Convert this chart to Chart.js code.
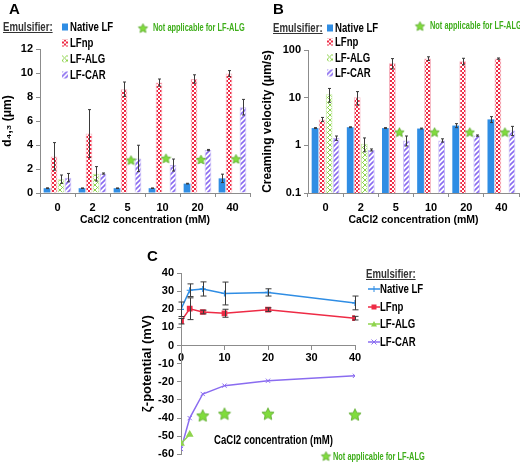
<!DOCTYPE html>
<html>
<head>
<meta charset="utf-8">
<script src="https://cdn.jsdelivr.net/npm/chart.js@4.4.0/dist/chart.umd.min.js"></script>
<style>
  body { margin: 0; background: #fff; }
  #wrap { position: relative; width: 520px; height: 464px; overflow: hidden;
          font-family: "Liberation Sans", Arial, sans-serif; font-weight: bold; }
  #wrap canvas.chart { position: absolute; }
  .t { position: absolute; white-space: nowrap; transform: translateY(-50%) scaleX(0.8);
       transform-origin: left center; z-index: 2; line-height: 1; }
  .panel { font-size: 15px; color: #000; transform: translateY(-50%); }
  .emu { font-size: 12px; color: #333; text-decoration: underline; }
  .leg { font-size: 12px; color: #000; }
  .na { font-size: 10px; color: #3fae1b; transform: translateY(-50%) scaleX(0.74); }
  .sw { position: absolute; width: 6px; height: 7px; transform: translateY(-50%); z-index: 2; }
  .ic { position: absolute; transform: translate(-50%, -50%); z-index: 2; }
</style>
</head>
<body>
<div id="wrap">
  <canvas class="chart" id="chartA" width="260" height="230" style="left:0;top:0"></canvas>
  <canvas class="chart" id="chartB" width="260" height="230" style="left:260px;top:0"></canvas>
  <canvas class="chart" id="chartC" width="240" height="224" style="left:140px;top:240px"></canvas>
</div>
<script>
// ================= DATA =================
const categories = ["0", "2", "5", "10", "20", "40"];
const seriesNames = ["Native LF", "LFnp", "LF-ALG", "LF-CAR"];

// A: droplet size d4,3 (µm)
const sizeNative = [0.4, 0.4, 0.4, 0.4, 0.78, 1.22];
const sizeNativeErr = [0.03, 0.02, 0.02, 0.02, 0.03, 0.35];
const sizeLFnp = [3.05, 4.95, 8.65, 9.2, 9.5, 9.95];
const sizeLFnpErr = [1.15, 2.0, 0.6, 0.3, 0.35, 0.25];
const sizeALG = [1.15, 1.6, null, null, null, null];
const sizeALGErr = [0.35, 0.6, 0, 0, 0, 0];
const sizeCAR = [1.28, 1.62, 2.88, 2.33, 3.58, 7.15];
const sizeCARErr = [0.35, 0.05, 1.1, 0.5, 0.05, 0.65];
const sizeStars = [null, null, 2.75, 2.9, 2.8, 2.85];
const yTicksA = [0, 2, 4, 6, 8, 10, 12];

// B: creaming velocity (µm/s)
const velNative = [2.3, 2.4, 2.3, 2.25, 2.6, 3.5];
const velNativeErr = [0.05, 0.05, 0.05, 0.05, 0.25, 0.5];
const velLFnp = [3.5, 10.2, 53, 66, 58, 66];
const velLFnpErr = [0.35, 3.2, 13, 6, 9, 2];
const velALG = [11.8, 1.08, null, null, null, null];
const velALGErr = [3.8, 0.35, 0, 0, 0, 0];
const velCAR = [1.42, 0.8, 1.27, 1.27, 1.6, 2.05];
const velCARErr = [0.15, 0.04, 0.3, 0.1, 0.05, 0.45];
const velStars = [null, null, 1.9, 1.9, 1.9, 1.9];
const yTicksB = [0.1, 1, 10, 100];

// C: zeta-potential (mV)
const zetaX = [0, 2, 5, 10, 20, 40];
const zetaNative = [20, 30.5, 31.2, 28.7, 29.3, 23.5];
const zetaNativeErr = [4, 3.5, 3.9, 6.3, 2, 3.8];
const zetaLFnp = [13.4, 20.3, 18.5, 17.8, 19.8, 15.1];
const zetaLFnpErr = [1.5, 6, 1, 2.2, 1, 1];
const zetaALGX = [0, 2];
const zetaALG = [-54, -49];
const zetaCAR = [-57, -40, -26.7, -22.1, -19.4, -16.7];
const starX = [5, 10, 20, 40];
const starY = [-38.5, -37.5, -37.5, -38];
const xTicksC = [0, 10, 20, 30, 40];
const yTicksC = [-60, -50, -40, -30, -20, -10, 0, 10, 20, 30, 40];

// ================= WARNA & POLA =================
const FONT = '"Liberation Sans", Arial, sans-serif';
const AXIS = "#8c8c8c";
const BLUE = "#2f8de4";
const RED = "#ee2b45";
const GREEN = "#8fd44e";
const PURPLE = "#8a6cf0";
const ERR = "#3a3a3a";

function patternCanvas(kind) {
  const c = document.createElement("canvas");
  const g = c.getContext("2d");
  if (kind === "checker") {
    c.width = c.height = 4;
    g.fillStyle = RED; g.fillRect(0, 0, 4, 4);
    g.fillStyle = "#fff"; g.fillRect(0, 0, 2, 2); g.fillRect(2, 2, 2, 2);
  } else if (kind === "hatch") {
    c.width = c.height = 5;
    g.fillStyle = "#fff"; g.fillRect(0, 0, 5, 5);
    g.strokeStyle = GREEN; g.lineWidth = 1;
    g.beginPath();
    g.moveTo(0, 0); g.lineTo(5, 5);
    g.moveTo(5, 0); g.lineTo(0, 5);
    g.stroke();
  } else {
    c.width = c.height = 5;
    g.fillStyle = "#fff"; g.fillRect(0, 0, 5, 5);
    g.strokeStyle = PURPLE; g.lineWidth = 1.6;
    g.beginPath();
    g.moveTo(-1, 6); g.lineTo(6, -1);
    g.moveTo(-1, 1); g.lineTo(1, -1);
    g.moveTo(4, 6); g.lineTo(6, 4);
    g.stroke();
  }
  return c;
}
const pcNp = patternCanvas("checker");
const pcAlg = patternCanvas("hatch");
const pcCar = patternCanvas("stripe");
const patNp = pcNp.getContext("2d").createPattern(pcNp, "repeat");
const patAlg = pcAlg.getContext("2d").createPattern(pcAlg, "repeat");
const patCar = pcCar.getContext("2d").createPattern(pcCar, "repeat");

function makeStar(size) {
  const c = document.createElement("canvas");
  c.width = c.height = size;
  const g = c.getContext("2d");
  const cx = size / 2, cy = size / 2 + size * 0.05, R = size / 2 - 0.6, r = R * 0.48;
  g.beginPath();
  for (let k = 0; k < 10; k++) {
    const rad = k % 2 ? r : R;
    const a = -Math.PI / 2 + (k * Math.PI) / 5;
    g.lineTo(cx + rad * Math.cos(a), cy + rad * Math.sin(a));
  }
  g.closePath();
  g.fillStyle = "#80dc3c";
  g.fill();
  g.strokeStyle = "#5aa82c";
  g.lineWidth = 0.8;
  g.stroke();
  return c;
}
const starSmall = makeStar(11);
const starBig = makeStar(14);

// ================= PLUGIN =================
const errorBars = {
  id: "errorBars",
  afterDatasetsDraw(chart) {
    const ctx = chart.ctx;
    ctx.save();
    ctx.strokeStyle = ERR;
    ctx.lineWidth = 1;
    chart.data.datasets.forEach((ds, i) => {
      if (!ds.errors) return;
      const meta = chart.getDatasetMeta(i);
      const yScale = chart.scales[meta.yAxisID];
      meta.data.forEach((el, j) => {
        const raw = ds.data[j];
        const v = raw !== null && typeof raw === "object" ? raw.y : raw;
        const e = ds.errors[j];
        if (v === null || !e) return;
        let lo = v - e;
        if (yScale.type === "logarithmic" && lo <= 0) lo = yScale.min;
        const top = yScale.getPixelForValue(v + e);
        const bot = yScale.getPixelForValue(lo);
        const cap = chart.config.type === "line" ? 3 : 1.5;
        const x = Math.round(el.x) + 0.5;
        ctx.beginPath();
        ctx.moveTo(x, top); ctx.lineTo(x, bot);
        ctx.moveTo(x - cap, top); ctx.lineTo(x + cap, top);
        ctx.moveTo(x - cap, bot); ctx.lineTo(x + cap, bot);
        ctx.stroke();
      });
    });
    ctx.restore();
  },
};

function starPlugin(values, slot, img) {
  return {
    id: "stars",
    afterDatasetsDraw(chart) {
      const meta = chart.getDatasetMeta(slot);
      const yScale = chart.scales.y;
      values.forEach((v, j) => {
        if (v === null) return;
        const x = meta.data[j].x;
        const y = yScale.getPixelForValue(v);
        chart.ctx.drawImage(img, x - img.width / 2, y - img.height / 2);
      });
    },
  };
}

Chart.defaults.font.family = FONT;
Chart.defaults.font.weight = "bold";
Chart.defaults.font.size = 11;
Chart.defaults.color = "#000";

function barOptions(yScale, padTop, yWidth, padRight) {
  return {
    responsive: false,
    animation: false,
    layout: { padding: { top: padTop, right: padRight, left: 0, bottom: 0 } },
    datasets: { bar: { categoryPercentage: 0.8, barPercentage: 0.96 } },
    plugins: { legend: { display: false }, tooltip: { enabled: false } },
    scales: {
      x: {
        grid: { drawOnChartArea: false, tickLength: 4, color: AXIS },
        border: { color: AXIS },
        ticks: { padding: 4, font: { size: 11 } },
        title: { display: true, text: "CaCl2 concentration (mM)", font: { size: 10.5 }, padding: { top: 2, bottom: 4 } },
        afterFit: (s) => { s.height = 37; },
      },
      y: Object.assign(yScale, { afterFit: (s) => { s.width = yWidth; } }),
    },
  };
}

function barSets(n, np, alg, car, en, enp, ealg, ecar) {
  return [
    { label: seriesNames[0], data: n, errors: en, backgroundColor: BLUE },
    { label: seriesNames[1], data: np, errors: enp, backgroundColor: patNp, borderColor: "#f6b3bf", borderWidth: 1 },
    { label: seriesNames[2], data: alg, errors: ealg, backgroundColor: patAlg, borderColor: "#c5eaa4", borderWidth: 1 },
    { label: seriesNames[3], data: car, errors: ecar, backgroundColor: patCar, borderColor: "#c9bcf7", borderWidth: 1 },
  ];
}

// ================= PANEL A =================
new Chart(document.getElementById("chartA"), {
  type: "bar",
  data: {
    labels: categories,
    datasets: barSets(sizeNative, sizeLFnp, sizeALG, sizeCAR, sizeNativeErr, sizeLFnpErr, sizeALGErr, sizeCARErr),
  },
  options: barOptions({
    min: 0, max: 12,
    afterBuildTicks: (s) => { s.ticks = yTicksA.map((v) => ({ value: v })); },
    grid: { drawOnChartArea: false, tickLength: 4, color: AXIS },
    border: { color: AXIS },
    ticks: { padding: 3, font: { size: 11 } },
    title: { display: true, text: "d\u2084,\u2083 (\u03bcm)", font: { size: 12 }, padding: { top: 0, bottom: 2 } },
  }, 49, 40, 10),
  plugins: [errorBars, starPlugin(sizeStars, 2, starSmall)],
});

// ================= PANEL B =================
new Chart(document.getElementById("chartB"), {
  type: "bar",
  data: {
    labels: categories,
    datasets: barSets(velNative, velLFnp, velALG, velCAR, velNativeErr, velLFnpErr, velALGErr, velCARErr),
  },
  options: barOptions({
    type: "logarithmic", min: 0.1, max: 100,
    afterBuildTicks: (s) => { s.ticks = yTicksB.map((v) => ({ value: v })); },
    grid: { drawOnChartArea: false, tickLength: 4, color: AXIS },
    border: { color: AXIS },
    ticks: { padding: 3, font: { size: 11 }, callback: (v) => String(v) },
    title: { display: true, text: "Creaming velocity (\u03bcm/s)", font: { size: 12 }, padding: { top: 0, bottom: 2 } },
  }, 50, 48, 1),
  plugins: [errorBars, starPlugin(velStars, 2, starSmall)],
});

// ================= PANEL C =================
const xy = (xs, ys) => xs.map((x, i) => ({ x, y: ys[i] }));
new Chart(document.getElementById("chartC"), {
  type: "line",
  data: {
    datasets: [
      { label: seriesNames[0], data: xy(zetaX, zetaNative), errors: zetaNativeErr, borderColor: BLUE, backgroundColor: BLUE,
        pointStyle: "cross", pointRadius: 3, pointBorderWidth: 1.2, borderWidth: 1.5 },
      { label: seriesNames[1], data: xy(zetaX, zetaLFnp), errors: zetaLFnpErr, borderColor: RED, backgroundColor: RED,
        pointStyle: "rect", pointRadius: 3, borderWidth: 1.5 },
      { label: seriesNames[2], data: xy(zetaALGX, zetaALG), borderColor: GREEN, backgroundColor: GREEN,
        pointStyle: "triangle", pointRadius: 3, borderWidth: 1.5 },
      { label: seriesNames[3], data: xy(zetaX, zetaCAR), borderColor: PURPLE, backgroundColor: PURPLE,
        pointStyle: "crossRot", pointRadius: 3, pointBorderWidth: 1, borderWidth: 1.5 },
      { label: "Not applicable for LF-ALG", data: xy(starX, starY), showLine: false, clip: false,
        pointStyle: starBig, pointRadius: 7 },
    ],
  },
  options: {
    responsive: false,
    animation: false,
    layout: { padding: { top: 33, right: 25, left: 0, bottom: 9 } },
    plugins: { legend: { display: false }, tooltip: { enabled: false } },
    scales: {
      x: {
        type: "linear", position: { y: 0 }, min: 0, max: 40,
        afterBuildTicks: (s) => { s.ticks = xTicksC.map((v) => ({ value: v })); },
        grid: { drawOnChartArea: false, tickLength: 4, color: AXIS },
        border: { color: AXIS },
        ticks: { padding: 2, font: { size: 11 } },
      },
      y: {
        min: -60, max: 40,
        afterBuildTicks: (s) => { s.ticks = yTicksC.map((v) => ({ value: v })); },
        grid: { drawOnChartArea: false, tickLength: 4, color: AXIS },
        border: { color: AXIS },
        ticks: { padding: 3, font: { size: 11 } },
        title: { display: true, text: "\u03b6-potential (mV)", font: { size: 13 }, padding: { top: 0, bottom: 2 } },
        afterFit: (s) => { s.width = 41; },
      },
    },
  },
  plugins: [errorBars],
});

// ================= LEGENDA & LABEL =================
const wrap = document.getElementById("wrap");
function text(cls, str, x, y) {
  const d = document.createElement("div");
  d.className = "t " + cls;
  d.textContent = str;
  d.style.left = x + "px";
  d.style.top = y + "px";
  wrap.appendChild(d);
}
function swatch(canvasOrColor, x, y) {
  const d = document.createElement("div");
  d.className = "sw";
  if (typeof canvasOrColor === "string") d.style.background = canvasOrColor;
  else d.style.backgroundImage = "url(" + canvasOrColor.toDataURL() + ")";
  d.style.left = x + "px";
  d.style.top = y + "px";
  wrap.appendChild(d);
}
function icon(cnv, x, y) {
  const img = document.createElement("img");
  img.className = "ic";
  img.src = cnv.toDataURL();
  img.style.left = x + "px";
  img.style.top = y + "px";
  wrap.appendChild(img);
}
const fills = [BLUE, pcNp, pcAlg, pcCar];

text("panel", "A", 9, 8);
text("panel", "B", 273, 8);
text("panel", "C", 147, 255);

// legend A
text("emu", "Emulsifier:", 3, 27);
[27, 43, 59, 75].forEach((y, i) => { swatch(fills[i], 62, y); text("leg", seriesNames[i], 70, y); });
icon(starSmall, 143, 28);
text("na", "Not applicable for LF-ALG", 153, 28);

// legend B
text("emu", "Emulsifier:", 273, 28);
[28, 42, 58, 73].forEach((y, i) => { swatch(fills[i], 327, y); text("leg", seriesNames[i], 335, y); });
icon(starSmall, 420, 26);
text("na", "Not applicable for LF-ALG", 430, 26);

// legend C
function lineMarker(color, style) {
  const c = document.createElement("canvas");
  c.width = 12; c.height = 8;
  const g = c.getContext("2d");
  g.strokeStyle = color; g.fillStyle = color; g.lineWidth = 1.5;
  g.beginPath(); g.moveTo(0, 4); g.lineTo(12, 4); g.stroke();
  g.lineWidth = 1;
  g.beginPath();
  if (style === "rect") g.fillRect(3.5, 1.5, 5, 5);
  else if (style === "triangle") { g.moveTo(6, 1); g.lineTo(9, 6.5); g.lineTo(3, 6.5); g.closePath(); g.fill(); }
  else if (style === "cross") { g.moveTo(6, 1); g.lineTo(6, 7); g.stroke(); }
  else { g.moveTo(3.5, 1.5); g.lineTo(8.5, 6.5); g.moveTo(8.5, 1.5); g.lineTo(3.5, 6.5); g.stroke(); }
  return c;
}
const cStyles = ["cross", "rect", "triangle", "crossRot"];
const cColors = [BLUE, RED, GREEN, PURPLE];
text("emu", "Emulsifier:", 366, 274);
[289, 307, 324, 342].forEach((y, i) => {
  icon(lineMarker(cColors[i], cStyles[i]), 374, y);
  text("leg", seriesNames[i], 380, y);
});
text("leg", "CaCl2 concentration (mM)", 214, 440);
icon(starSmall, 326, 456);
text("na", "Not applicable for LF-ALG", 333, 457);
</script>
</body>
</html>
